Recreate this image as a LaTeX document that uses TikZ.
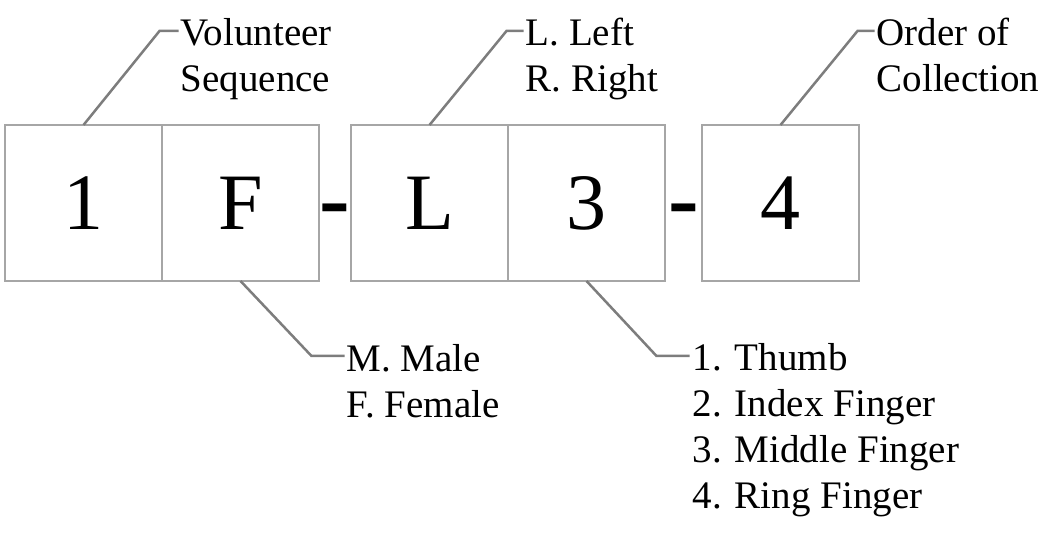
\documentclass[tikz,border=0pt]{standalone}
\usepackage{fontspec}
\setmainfont{Liberation Serif}
\usepackage{tikz}
\usetikzlibrary{positioning,calc}
\definecolor{boxgray}{RGB}{166,166,166}
\definecolor{leadgray}{RGB}{125,125,125}
\tikzset{
  cell/.style={draw=boxgray, line width=1.4pt, minimum width=157pt, minimum height=156pt,
    inner sep=0pt, outer sep=0pt, font=\fontsize{80}{96}\selectfont},
  dashmark/.style={inner sep=0pt, font=\fontsize{92}{110}\selectfont\bfseries},
  note/.style={inner sep=0pt, anchor=base west, font=\fontsize{39}{46}\selectfont},
  leader/.style={draw=leadgray, line width=2.5pt}
}
\begin{document}
\begin{tikzpicture}[x=1pt,y=1pt]
\useasboundingbox (0,0) rectangle (1061,546);
% code boxes
\node (n1) [cell] at (83.5,343) {1};
\node (nF) [cell, right=0pt of n1] {F};
\node (nL) [cell, right=32pt of nF] {L};
\node (n3) [cell, right=0pt of nL] {3};
\node (n4) [cell, right=37pt of n3] {4};
\node (sepA) [dashmark, anchor=base] at ($(nF.base east)!.5!(nL.base west)$) {-};
\node (sepB) [dashmark, anchor=base] at ($(n3.base east)!.5!(n4.base west)$) {-};
% notes above
\coordinate (seqknee) at ($(n1.north)+(76,94)$);
\coordinate (seqtip) at ($(seqknee)+(19,0)$);
\node (seqnote) [note] at ($(seqtip)+(2,-15)$) {
\begin{tabular}[t]{@{}l@{}}
Volunteer \\
Sequence
\end{tabular}
};
\draw [leader] (n1.north) -- (seqknee) -- (seqtip);
\coordinate (handknee) at ($(nL.north)+(77,94)$);
\coordinate (handtip) at ($(handknee)+(17,0)$);
\node (handnote) [note] at ($(handtip)+(2,-15)$) {
\begin{tabular}[t]{@{}l@{}}
L. Left \\
R. Right
\end{tabular}
};
\draw [leader] (nL.north) -- (handknee) -- (handtip);
\coordinate (ordknee) at ($(n4.north)+(77,94)$);
\coordinate (ordtip) at ($(ordknee)+(17,0)$);
\node (ordnote) [note] at ($(ordtip)+(2,-15)$) {
\begin{tabular}[t]{@{}l@{}}
Order of \\
Collection
\end{tabular}
};
\draw [leader] (n4.north) -- (ordknee) -- (ordtip);
% notes below
\coordinate (sexknee) at ($(nF.south)+(71,-75)$);
\coordinate (sextip) at ($(sexknee)+(33,0)$);
\node (sexnote) [note] at ($(sextip)+(2,-16)$) {
\begin{tabular}[t]{@{}l@{}}
M. Male \\
F. Female
\end{tabular}
};
\draw [leader] (nF.south) -- (sexknee) -- (sextip);
\coordinate (fingknee) at ($(n3.south)+(70,-75)$);
\coordinate (fingtip) at ($(fingknee)+(33,0)$);
\node (fingnote) [note] at ($(fingtip)+(3,-15)$) {
\begin{tabular}[t]{@{}l@{}}
1. Thumb \\
2. Index Finger \\
3. Middle Finger \\
4. Ring Finger
\end{tabular}
};
\draw [leader] (n3.south) -- (fingknee) -- (fingtip);
\end{tikzpicture}
\end{document}
